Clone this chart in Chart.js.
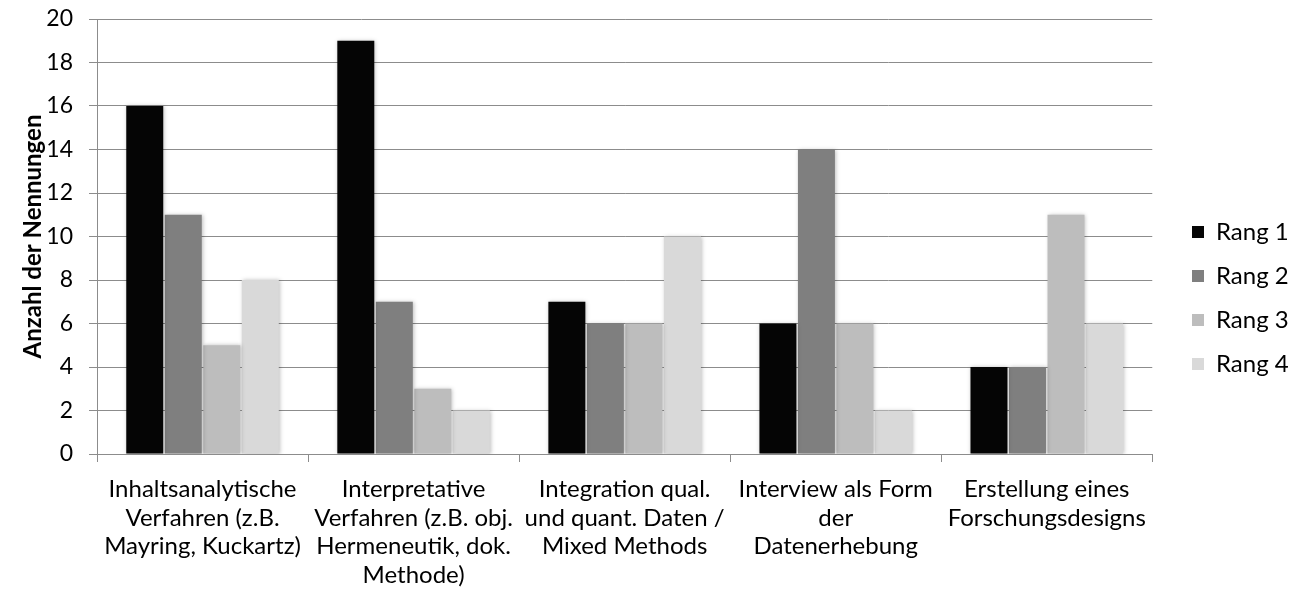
<!DOCTYPE html>
<html>
<head>
<meta charset="utf-8">
<script src="https://cdn.jsdelivr.net/npm/chart.js@4"></script>
<style>
  html, body { margin: 0; padding: 0; background: #fff; }
  #wrap { width: 1293px; height: 597px; }
</style>
</head>
<body>
<div id="wrap"><canvas id="graph1" width="1293" height="597"></canvas></div>
<script>
// data
const categories = [
  ["Inhaltsanalytische", "Verfahren (z.B.", "Mayring, Kuckartz)"],
  ["Interpretative", "Verfahren (z.B. obj.", "Hermeneutik, dok.", "Methode)"],
  ["Integration qual.", "und quant. Daten /", "Mixed Methods"],
  ["Interview als Form", "der", "Datenerhebung"],
  ["Erstellung eines", "Forschungsdesigns"]
];
const rang1 = [16, 19, 7, 6, 4];
const rang2 = [11, 7, 6, 14, 4];
const rang3 = [5, 3, 6, 6, 11];
const rang4 = [8, 2, 10, 2, 6];
const seriesNames = ["Rang 1", "Rang 2", "Rang 3", "Rang 4"];
const colors = ["#050505", "#7f7f7f", "#bdbdbd", "#d9d9d9"];

const FONT = "Lato, 'Open Sans', sans-serif";
const gridCol = "#8c8c8c";

// leichter Schatten hinter den Balken (wie im Excel-Original)
const shadowPlugin = {
  id: "shadow",
  beforeDatasetsDraw(chart) {
    const c = chart.ctx;
    c.save();
    c.shadowColor = "rgba(0,0,0,0.25)";
    c.shadowBlur = 4;
    c.shadowOffsetX = 1;
    c.shadowOffsetY = 0;
  },
  afterDatasetsDraw(chart) {
    chart.ctx.restore();
  }
};

// Legende etwas vom Diagramm abruecken
const legendShift = {
  id: "legendShift",
  afterLayout(chart) {
    const lg = chart.legend;
    const dx = 1172 - lg.left;
    lg.left += dx;
    lg.right += dx;
    lg.top -= 10;
    lg.bottom -= 10;
  }
};

const ctx = document.getElementById("graph1").getContext("2d");
const myChart = new Chart(ctx, {
  type: "bar",
  data: {
    labels: categories,
    datasets: [rang1, rang2, rang3, rang4].map((d, i) => ({
      label: seriesNames[i],
      data: d,
      backgroundColor: colors[i],
      borderWidth: 0,
      categoryPercentage: 0.73,
      barPercentage: 0.96
    }))
  },
  options: {
    responsive: false,
    animation: false,
    layout: { padding: { top: 19, right: 14, left: 22, bottom: 0 } },
    plugins: {
      legend: {
        position: "right",
        align: "center",
        labels: {
          color: "#000",
          font: { family: FONT, size: 24 },
          boxWidth: 12,
          boxHeight: 12,
          padding: 20
        }
      },
      tooltip: { enabled: false }
    },
    scales: {
      x: {
        afterFit(scale) {
          scale.height = 143;
          scale.paddingLeft = 0;
          scale.paddingRight = 0;
        },
        grid: {
          drawOnChartArea: false,
          drawTicks: true,
          tickLength: 8,
          color: gridCol,
          offset: true
        },
        border: { color: gridCol, width: 1 },
        ticks: {
          color: "#000",
          font: { family: FONT, size: 24, lineHeight: 1.19 },
          maxRotation: 0,
          autoSkip: false,
          padding: 13
        }
      },
      y: {
        min: 0,
        max: 20,
        afterFit(scale) {
          scale.width = 75;
          scale.paddingTop = 0;
          scale.paddingBottom = 0;
        },
        ticks: {
          stepSize: 2,
          color: "#000",
          font: { family: FONT, size: 23 },
          padding: 16
        },
        grid: { color: gridCol, tickLength: 8, lineWidth: 1 },
        border: { color: gridCol, width: 1 },
        title: {
          display: true,
          text: "Anzahl der Nennungen",
          color: "#000",
          font: { family: FONT, size: 24, weight: "bold", lineHeight: 0.9 },
          padding: { top: 0, bottom: 0 }
        }
      }
    }
  },
  plugins: [shadowPlugin, legendShift]
});
</script>
</body>
</html>
